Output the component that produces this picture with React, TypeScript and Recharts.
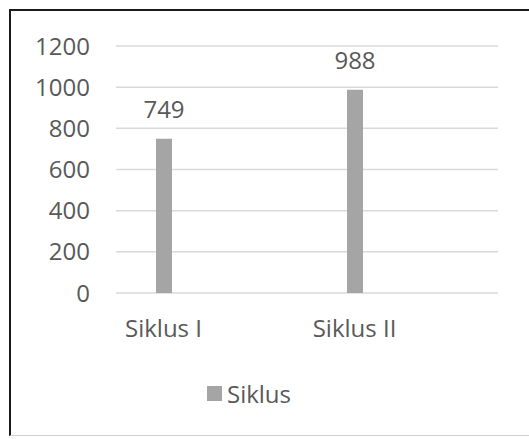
import React from "react";
import { BarChart, Bar, XAxis, YAxis, CartesianGrid, Legend, LabelList } from "recharts";

const categories = ["Siklus I", "Siklus II"];
const values = [749, 988];
const seriesName = "Siklus";
const yTicks = [0, 200, 400, 600, 800, 1000, 1200];

const data = categories.map((c, i) => ({ name: c, value: values[i], empty: null }));

const FONT = "'Open Sans', sans-serif";
const TEXT = "#595959";
const BAR = "#a5a5a5";

const XTick = (props: any) => {
  const { x, y, payload } = props;
  return (
    <text x={x - 48} y={y} dy={17} textAnchor="middle" fill={TEXT} fontSize={24} fontFamily={FONT}>
      {payload.value}
    </text>
  );
};

const LegendContent = () => (
  <div style={{ display: "flex", justifyContent: "center", alignItems: "center", height: 34, fontFamily: FONT, fontSize: 24, color: TEXT }}>
    <span style={{ display: "inline-block", width: 15, height: 15, background: BAR, marginRight: 5 }} />
    <span>{seriesName}</span>
  </div>
);

export default function App() {
  return (
    <div style={{ position: "absolute", left: 0, top: 0, width: 529, height: 439, background: "#fff", overflow: "hidden" }}>
      <div
        style={{
          position: "absolute",
          left: 9,
          top: 9,
          width: 540,
          height: 427,
          borderLeft: "2px solid #1a1a1a",
          borderTop: "2px solid #1a1a1a",
          borderBottom: "1px solid #d0d0d0",
          boxSizing: "border-box",
        }}
      />
      <div style={{ position: "absolute", left: 0, top: 0 }}>
        <BarChart
          width={529}
          height={439}
          data={data}
          margin={{ top: 46, right: 31, left: 0, bottom: 29 }}
          barGap={80}
        >
          <CartesianGrid vertical={false} stroke="#d9d9d9" strokeWidth={1.5} />
          <XAxis
            dataKey="name"
            axisLine={false}
            tickLine={false}
            height={83}
            tickMargin={21}
            tick={<XTick />}
            interval={0}
          />
          <YAxis
            domain={[0, 1200]}
            ticks={yTicks}
            axisLine={false}
            tickLine={false}
            width={116}
            tickMargin={20}
            tick={{ fill: TEXT, fontSize: 24, fontFamily: FONT }}
          />
          <Legend verticalAlign="bottom" content={<LegendContent />} wrapperStyle={{ height: 34 }} />
          <Bar dataKey="value" name={seriesName} fill={BAR} barSize={16} isAnimationActive={false}>
            <LabelList dataKey="value" position="top" offset={21} fill={TEXT} fontSize={24} fontFamily={FONT} />
          </Bar>
          <Bar dataKey="empty" fill={BAR} barSize={16} legendType="none" isAnimationActive={false} />
        </BarChart>
      </div>
    </div>
  );
}
